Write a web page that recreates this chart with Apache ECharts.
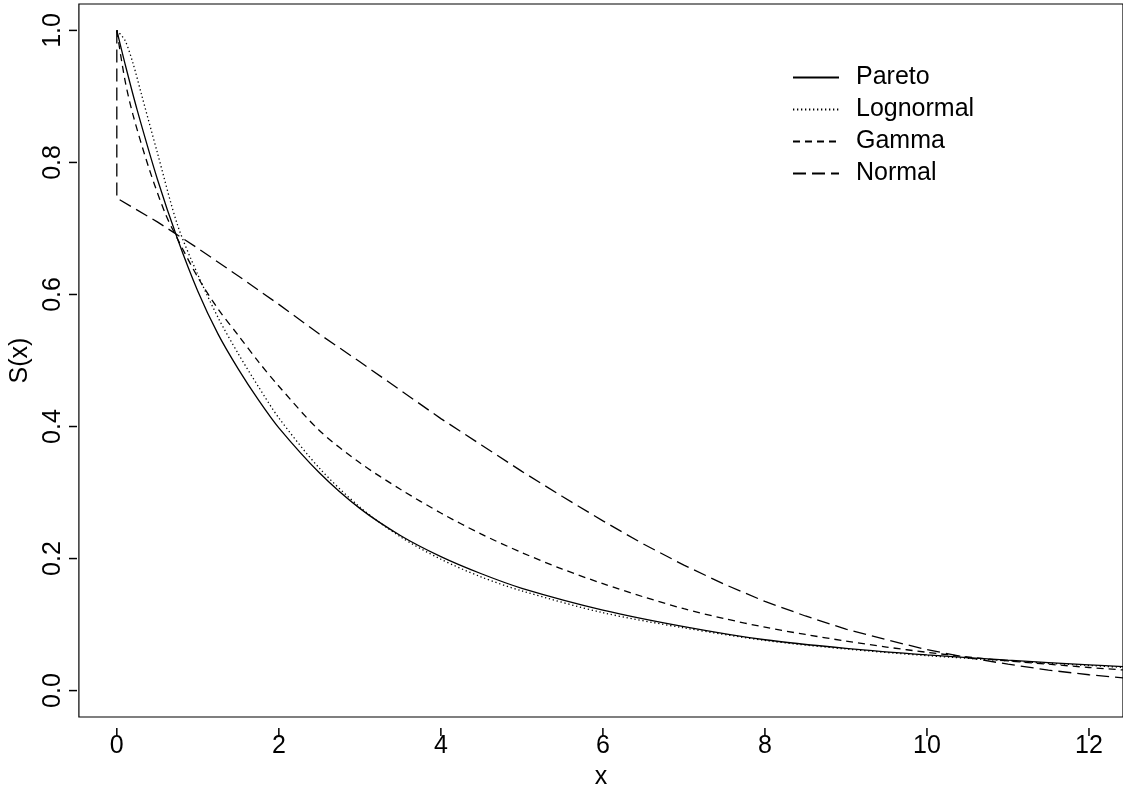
<!DOCTYPE html>
<html>
<head>
<meta charset="utf-8">
<script src="https://cdn.jsdelivr.net/npm/echarts@6/dist/echarts.min.js"></script>
<style>
html,body{margin:0;padding:0;background:#fff;}
#chart{width:1123px;height:795px;}
</style>
</head>
<body>
<div id="chart"></div>
<script>
// ---- data ----
const seriesNames = ['Pareto', 'Lognormal', 'Gamma', 'Normal'];

const paretoX = [0, 0.1, 0.25, 0.5, 0.75, 1, 1.25, 1.5, 1.75, 2, 2.5, 3, 3.5, 4, 4.5, 5, 6, 7, 8, 9, 10, 11, 12, 12.45];
const paretoY = [1.0, 0.95, 0.88, 0.775, 0.684, 0.605, 0.54, 0.487, 0.44, 0.398, 0.33, 0.276, 0.235, 0.203, 0.177, 0.155, 0.122, 0.097, 0.077, 0.064, 0.054, 0.046, 0.039, 0.036];

const lognormalX = [0, 0.1, 0.2, 0.3, 0.5, 0.75, 1, 1.25, 1.5, 1.75, 2, 2.5, 3, 3.5, 4, 4.5, 5, 6, 7, 8, 9, 10, 11, 12, 12.45];
const lognormalY = [1.0, 0.985, 0.95, 0.905, 0.815, 0.705, 0.63, 0.565, 0.51, 0.46, 0.413, 0.337, 0.278, 0.233, 0.199, 0.172, 0.151, 0.118, 0.095, 0.076, 0.063, 0.053, 0.045, 0.038, 0.035];

const gammaX = [0, 0.1, 0.2, 0.4, 0.6, 0.75, 1, 1.25, 1.5, 1.75, 2, 2.5, 3, 3.5, 4, 4.5, 5, 5.5, 6, 6.5, 7, 7.5, 8, 8.5, 9, 9.5, 10, 10.5, 11, 11.5, 12, 12.45];
const gammaY = [1.0, 0.925, 0.872, 0.79, 0.722, 0.684, 0.626, 0.578, 0.538, 0.498, 0.461, 0.394, 0.345, 0.305, 0.269, 0.237, 0.209, 0.184, 0.162, 0.142, 0.124, 0.109, 0.096, 0.085, 0.075, 0.066, 0.058, 0.051, 0.045, 0.040, 0.035, 0.031];

const normalX = [0, 0, 0.5, 1, 1.5, 2, 2.5, 3, 3.5, 4, 4.5, 5, 5.5, 6, 6.5, 7, 7.5, 8, 8.5, 9, 9.5, 10, 10.5, 11, 11.5, 12, 12.45];
const normalY = [1.0, 0.746, 0.71, 0.67, 0.628, 0.585, 0.54, 0.498, 0.455, 0.412, 0.372, 0.332, 0.294, 0.257, 0.222, 0.19, 0.161, 0.135, 0.113, 0.093, 0.077, 0.062, 0.05, 0.04, 0.031, 0.024, 0.019];

const xTicks = [0, 2, 4, 6, 8, 10, 12];
const yTicks = [0, 0.2, 0.4, 0.6, 0.8, 1.0];

// ---- chart ----
const pair = (xs, ys) => xs.map((x, i) => [x, ys[i]]);
const FONT = '"Liberation Sans", Arial, Helvetica, sans-serif';
const dashes = {
  Pareto: 'solid',
  Lognormal: [1.3, 2.7],
  Gamma: [7, 5],
  Normal: [13, 6]
};
const smoothing = {Pareto: 0.3, Lognormal: 0.3, Gamma: 0.3, Normal: false};
const dataMap = {
  Pareto: pair(paretoX, paretoY),
  Lognormal: pair(lognormalX, lognormalY),
  Gamma: pair(gammaX, gammaY),
  Normal: pair(normalX, normalY)
};

const GRID = {left: 77, right: -2, top: 4, bottom: 67};
const TICK_LEN = 8;

const chart = echarts.init(document.getElementById('chart'), null, {renderer: 'canvas'});
chart.setOption({
  animation: false,
  backgroundColor: '#ffffff',
  grid: Object.assign({
    show: true, borderColor: '#000', borderWidth: 1.2, backgroundColor: 'transparent'
  }, GRID),
  legend: {
    orient: 'vertical',
    left: 787, top: 60,
    itemWidth: 46, itemHeight: 26, itemGap: 7,
    data: seriesNames,
    itemStyle: {opacity: 0, borderWidth: 0},
    textStyle: {fontFamily: FONT, fontSize: 25, color: '#000', padding: [0, 0, 0, 12]}
  },
  xAxis: {
    type: 'value', min: -0.468, max: 12.42,
    name: 'x', nameLocation: 'middle', nameGap: 48,
    nameTextStyle: {fontFamily: FONT, fontSize: 25, color: '#000'},
    axisLine: {show: false, onZero: false},
    splitLine: {show: false},
    axisTick: {show: false},
    axisLabel: {customValues: xTicks, margin: 17, fontFamily: FONT, fontSize: 25, color: '#000',
      formatter: v => String(v)}
  },
  yAxis: {
    type: 'value', min: -0.04, max: 1.04,
    name: 'S(x)', nameLocation: 'middle', nameGap: 45,
    nameTextStyle: {fontFamily: FONT, fontSize: 25, color: '#000'},
    axisLine: {show: false, onZero: false},
    splitLine: {show: false},
    axisTick: {show: false},
    axisLabel: {customValues: yTicks, rotate: 90, margin: 13, fontFamily: FONT, fontSize: 25, color: '#000',
      formatter: v => v.toFixed(1)}
  },
  series: seriesNames.map(n => ({
    name: n, type: 'line', data: dataMap[n],
    showSymbol: false, symbol: 'none', smooth: smoothing[n],
    clip: true,
    lineStyle: {color: '#000', width: 1.3, type: dashes[n]},
    itemStyle: {color: '#000'}
  }))
});

// tick marks placed through the chart's own axis scales
const H = chart.getHeight();
const bottomY = H - GRID.bottom;
const tickStyle = {stroke: '#000', lineWidth: 1.5};
const tickEls = [];
xTicks.forEach(v => {
  const px = chart.convertToPixel({xAxisIndex: 0}, v);
  tickEls.push({type: 'line', z: 100, shape: {x1: px, y1: bottomY, x2: px, y2: bottomY + TICK_LEN}, style: tickStyle, silent: true});
});
yTicks.forEach(v => {
  const py = chart.convertToPixel({yAxisIndex: 0}, v);
  tickEls.push({type: 'line', z: 100, shape: {x1: GRID.left, y1: py, x2: GRID.left - TICK_LEN, y2: py}, style: tickStyle, silent: true});
});
chart.setOption({graphic: {elements: tickEls}});
</script>
</body>
</html>
